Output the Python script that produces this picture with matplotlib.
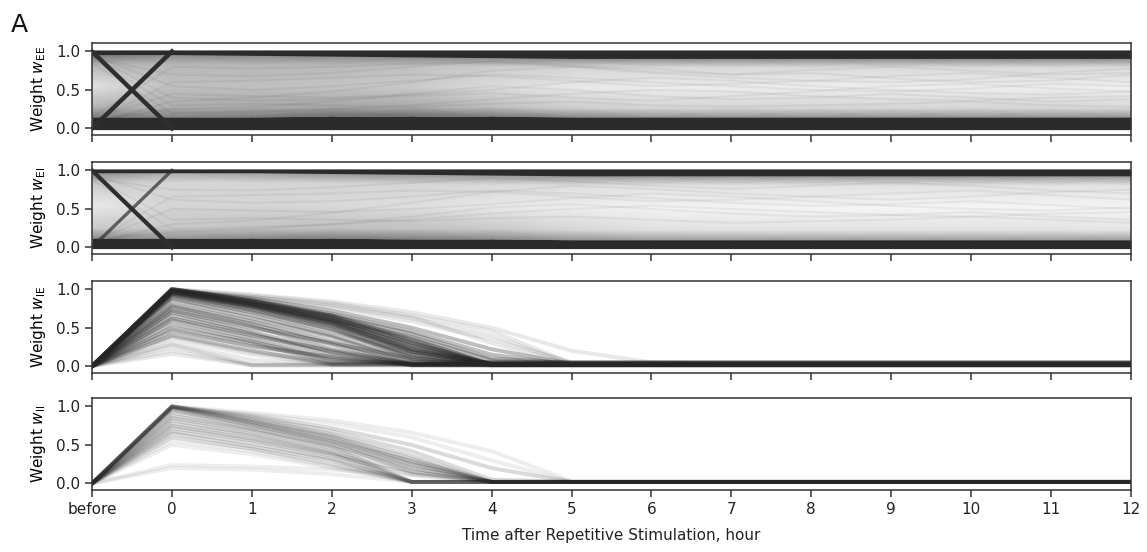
import matplotlib
matplotlib.use('Agg')
from matplotlib import pyplot as plt
from matplotlib.colors import LinearSegmentedColormap
import numpy as np

# hourly sample points: "before" stimulation, then hours 0..12
hours = [-1, 0, 1, 2, 3, 4, 5, 6, 7, 8, 9, 10, 11, 12]
hour_labels = ['before', '0', '1', '2', '3', '4', '5', '6', '7', '8', '9', '10', '11', '12']

# E->E weights: edges of the saturated bands near 0 and near 1
ee_low_edge = [0.15, 0.15, 0.15, 0.16, 0.16, 0.16, 0.15, 0.15, 0.15, 0.15, 0.15, 0.15, 0.15, 0.15]
ee_high_edge = [0.96, 0.96, 0.95, 0.94, 0.93, 0.92, 0.91, 0.91, 0.91, 0.91, 0.91, 0.91, 0.91, 0.91]
# density of weights between the bands (rows run from low edge to high edge)
ee_density = [
    [0.62, 0.58, 0.62, 0.68, 0.68, 0.62, 0.56, 0.50, 0.50, 0.50, 0.50, 0.50, 0.50, 0.50],
    [0.36, 0.38, 0.40, 0.42, 0.40, 0.32, 0.24, 0.20, 0.20, 0.20, 0.20, 0.20, 0.20, 0.18],
    [0.14, 0.30, 0.30, 0.28, 0.25, 0.17, 0.11, 0.09, 0.09, 0.08, 0.08, 0.08, 0.08, 0.07],
    [0.36, 0.34, 0.34, 0.33, 0.30, 0.24, 0.20, 0.18, 0.18, 0.18, 0.18, 0.18, 0.18, 0.17],
    [0.66, 0.56, 0.56, 0.56, 0.56, 0.56, 0.56, 0.56, 0.56, 0.56, 0.56, 0.56, 0.56, 0.56],
]
ee_paths = [
    [0.05, 0.35, 0.40, 0.48, 0.60, 0.75, 0.80, 0.78, 0.70, 0.72, 0.65, 0.60, 0.62, 0.70],
    [0.95, 0.55, 0.50, 0.55, 0.62, 0.70, 0.66, 0.60, 0.55, 0.50, 0.48, 0.52, 0.58, 0.55],
    [0.10, 0.25, 0.28, 0.35, 0.45, 0.55, 0.50, 0.42, 0.38, 0.40, 0.45, 0.40, 0.35, 0.38],
    [0.92, 0.70, 0.68, 0.72, 0.80, 0.88, 0.82, 0.74, 0.70, 0.76, 0.80, 0.75, 0.70, 0.72],
    [0.12, 0.45, 0.42, 0.40, 0.44, 0.50, 0.60, 0.66, 0.62, 0.55, 0.50, 0.46, 0.44, 0.48],
    [0.90, 0.30, 0.32, 0.30, 0.28, 0.32, 0.35, 0.30, 0.28, 0.30, 0.32, 0.35, 0.30, 0.28],
    [0.08, 0.60, 0.62, 0.66, 0.70, 0.68, 0.62, 0.55, 0.58, 0.62, 0.68, 0.72, 0.66, 0.60],
    [0.85, 0.20, 0.22, 0.25, 0.30, 0.38, 0.45, 0.50, 0.48, 0.42, 0.38, 0.36, 0.40, 0.42],
    [0.15, 0.80, 0.78, 0.80, 0.84, 0.86, 0.80, 0.72, 0.66, 0.62, 0.60, 0.64, 0.72, 0.78],
    [0.94, 0.40, 0.36, 0.38, 0.42, 0.46, 0.40, 0.36, 0.42, 0.48, 0.55, 0.58, 0.52, 0.48],
]
# synapses swapped by the stimulation: before -> hour 0
ee_swap = [[1.0, 0.0], [0.0, 1.0]]

# E->I weights
ei_low_edge = [0.12, 0.12, 0.12, 0.12, 0.11, 0.11, 0.10, 0.10, 0.10, 0.10, 0.10, 0.10, 0.10, 0.10]
ei_high_edge = [0.97, 0.97, 0.97, 0.96, 0.95, 0.94, 0.93, 0.93, 0.93, 0.93, 0.93, 0.93, 0.93, 0.93]
ei_density = [
    [0.55, 0.50, 0.56, 0.60, 0.60, 0.55, 0.50, 0.45, 0.45, 0.45, 0.45, 0.45, 0.45, 0.45],
    [0.26, 0.26, 0.28, 0.30, 0.30, 0.26, 0.20, 0.15, 0.14, 0.14, 0.14, 0.14, 0.14, 0.13],
    [0.10, 0.20, 0.20, 0.18, 0.15, 0.11, 0.08, 0.06, 0.06, 0.05, 0.05, 0.05, 0.05, 0.05],
    [0.26, 0.20, 0.20, 0.20, 0.20, 0.18, 0.16, 0.14, 0.14, 0.14, 0.14, 0.14, 0.14, 0.13],
    [0.55, 0.40, 0.45, 0.50, 0.50, 0.50, 0.50, 0.50, 0.50, 0.50, 0.50, 0.50, 0.50, 0.50],
]
ei_paths = [
    [0.05, 0.30, 0.35, 0.45, 0.58, 0.72, 0.80, 0.76, 0.70, 0.66, 0.62, 0.66, 0.72, 0.75],
    [0.95, 0.62, 0.58, 0.60, 0.66, 0.74, 0.70, 0.64, 0.58, 0.54, 0.56, 0.60, 0.55, 0.50],
    [0.10, 0.20, 0.24, 0.30, 0.40, 0.52, 0.56, 0.50, 0.44, 0.40, 0.42, 0.46, 0.40, 0.36],
    [0.90, 0.75, 0.74, 0.78, 0.84, 0.90, 0.86, 0.80, 0.76, 0.80, 0.84, 0.80, 0.74, 0.70],
    [0.08, 0.50, 0.48, 0.46, 0.50, 0.56, 0.64, 0.70, 0.66, 0.60, 0.54, 0.50, 0.48, 0.52],
    [0.92, 0.36, 0.38, 0.36, 0.34, 0.38, 0.40, 0.36, 0.32, 0.34, 0.36, 0.40, 0.36, 0.32],
    [0.06, 0.66, 0.68, 0.70, 0.74, 0.72, 0.66, 0.60, 0.62, 0.66, 0.70, 0.74, 0.68, 0.62],
    [0.88, 0.24, 0.26, 0.30, 0.36, 0.44, 0.50, 0.54, 0.50, 0.46, 0.42, 0.40, 0.44, 0.46],
]
ei_swap = [[1.0, 0.0], [0.0, 1.0]]

# I->E weights: value before, then hourly values from hour 0 until they settle
ie_before = 0.0
ie_paths = [
    [1.00, 0.86, 0.66, 0.36, 0.02],
    [1.00, 0.84, 0.64, 0.32, 0.02],
    [0.99, 0.84, 0.63, 0.30, 0.02],
    [0.99, 0.82, 0.62, 0.30, 0.03],
    [0.98, 0.82, 0.60, 0.26, 0.02],
    [0.98, 0.81, 0.60, 0.24, 0.02],
    [0.97, 0.80, 0.58, 0.22, 0.03],
    [0.97, 0.81, 0.59, 0.27, 0.02],
    [0.96, 0.78, 0.56, 0.20, 0.02],
    [0.96, 0.79, 0.57, 0.21, 0.03],
    [0.95, 0.78, 0.55, 0.18, 0.04],
    [0.95, 0.77, 0.54, 0.19, 0.02],
    [0.94, 0.76, 0.52, 0.15, 0.02],
    [0.93, 0.74, 0.50, 0.12, 0.03],
    [0.92, 0.72, 0.48, 0.10, 0.02],
    [1.00, 0.85, 0.65, 0.34, 0.03],
    [1.00, 0.85, 0.68, 0.45, 0.15, 0.02],
    [0.98, 0.83, 0.66, 0.42, 0.10, 0.04],
    [0.99, 0.88, 0.72, 0.50, 0.22, 0.03],
    [0.97, 0.80, 0.60, 0.38, 0.08, 0.02],
    [0.90, 0.70, 0.45, 0.15, 0.02],
    [0.88, 0.66, 0.40, 0.08, 0.01],
    [0.85, 0.62, 0.38, 0.05],
    [0.80, 0.58, 0.32, 0.03],
    [0.78, 0.55, 0.28, 0.02],
    [0.75, 0.52, 0.22, 0.02],
    [0.72, 0.50, 0.30, 0.10, 0.02],
    [0.70, 0.45, 0.18, 0.02],
    [0.66, 0.42, 0.15, 0.01],
    [0.62, 0.40, 0.20, 0.03],
    [0.60, 0.36, 0.10, 0.02],
    [0.55, 0.32, 0.08, 0.02],
    [0.50, 0.30, 0.05],
    [0.45, 0.26, 0.12, 0.02],
    [0.40, 0.20, 0.03],
]
# sparse synapses on the edges of the distribution
ie_sparse = [
    [1.00, 0.92, 0.82, 0.66, 0.46, 0.04],
    [1.00, 0.90, 0.78, 0.62, 0.40, 0.03],
    [0.99, 0.88, 0.76, 0.58, 0.35, 0.05],
    [0.98, 0.90, 0.80, 0.64, 0.30, 0.02],
    [1.00, 0.93, 0.84, 0.70, 0.50, 0.20, 0.05, 0.03],
    [0.48, 0.25, 0.03],
    [0.38, 0.18, 0.02],
    [0.35, 0.15, 0.02],
    [0.30, 0.08, 0.02],
    [0.28, 0.02],
    [0.25, 0.02],
    [0.20, 0.01],
    [0.16, 0.01],
]

# I->I weights
ii_before = 0.0
ii_paths = [
    [1.00, 0.84, 0.64, 0.36, 0.02],
    [1.00, 0.82, 0.62, 0.32, 0.02],
    [1.00, 0.80, 0.60, 0.28, 0.02],
    [0.99, 0.80, 0.58, 0.25, 0.02],
    [1.00, 0.86, 0.68, 0.42, 0.05, 0.02],
    [0.98, 0.78, 0.55, 0.20, 0.02],
    [1.00, 0.88, 0.72, 0.50, 0.20, 0.02],
    [0.97, 0.76, 0.52, 0.15, 0.02],
    [0.95, 0.75, 0.55, 0.30, 0.02],
    [0.92, 0.72, 0.50, 0.25, 0.02],
    [0.88, 0.70, 0.48, 0.02],
    [0.85, 0.68, 0.46, 0.20, 0.02],
    [0.82, 0.64, 0.42, 0.02],
    [0.78, 0.62, 0.40, 0.15, 0.02],
    [0.75, 0.58, 0.38, 0.02],
    [0.72, 0.56, 0.36, 0.12, 0.02],
    [0.68, 0.52, 0.32, 0.02],
    [0.65, 0.48, 0.30, 0.02],
    [0.60, 0.45, 0.25, 0.02],
]
ii_sparse = [
    [1.00, 0.92, 0.82, 0.66, 0.42, 0.03],
    [0.99, 0.90, 0.78, 0.60, 0.30, 0.02],
    [0.55, 0.42, 0.22, 0.02],
    [0.50, 0.38, 0.20, 0.02],
    [0.24, 0.22, 0.18, 0.10, 0.02],
    [0.20, 0.18, 0.12, 0.02],
]

DARK = '#262626'
shade_cmap = LinearSegmentedColormap.from_list('shade', ['white', '#2b2b2b'])
row_fracs = [0.0, 0.15, 0.5, 0.85, 1.0]


def draw_bimodal(ax, low_edge, high_edge, density, paths):
    x = np.array(hours, dtype=float)
    lo = np.array(low_edge)
    hi = np.array(high_edge)
    # curvilinear mesh spanning the gap between the two saturated bands
    X = np.tile(x, (len(row_fracs), 1))
    Y = np.array([lo + f * (hi - lo) for f in row_fracs])
    ax.pcolormesh(X, Y, np.array(density), shading='gouraud', cmap=shade_cmap,
                  vmin=0, vmax=1, rasterized=True)
    for p in paths:
        ax.plot(hours, p, color=DARK, alpha=0.06, lw=1.5)
    ax.fill_between(hours, -0.015, lo, color='#2b2b2b', lw=0)
    ax.fill_between(hours, hi, 1.02, color='#2b2b2b', lw=0)
    return ax


def draw_decay(ax, before, paths, alpha):
    for p in paths:
        xs = [-1] + hours[1:len(p) + 1] + [12]
        ys = [before] + list(p) + [p[-1]]
        ax.plot(xs, ys, color=DARK, alpha=alpha, lw=2.8, solid_joinstyle='round')


fig = plt.figure(figsize=(11.47, 5.52), dpi=100)
left, width, height = 0.0802, 0.9058, 0.1667
bottoms = [0.7554, 0.5399, 0.3248, 0.1123]
axes = [fig.add_axes([left, b, width, height]) for b in bottoms]

draw_bimodal(axes[0], ee_low_edge, ee_high_edge, ee_density, ee_paths)
axes[0].plot([-1, 0], ee_swap[0], color='#2e2e2e', lw=3.2)
axes[0].plot([-1, 0], ee_swap[1], color='#2e2e2e', lw=3.2)

draw_bimodal(axes[1], ei_low_edge, ei_high_edge, ei_density, ei_paths)
axes[1].plot([-1, 0], ei_swap[0], color='#2e2e2e', lw=3.0)
axes[1].plot([-1, 0], ei_swap[1], color='#2e2e2e', lw=2.4, alpha=0.7)

draw_decay(axes[2], ie_before, ie_sparse, 0.10)
draw_decay(axes[2], ie_before, ie_paths, 0.30)
draw_decay(axes[3], ii_before, ii_sparse, 0.08)
draw_decay(axes[3], ii_before, ii_paths, 0.17)

ylabels = [r'Weight $w_{\mathrm{EE}}$', r'Weight $w_{\mathrm{EI}}$',
           r'Weight $w_{\mathrm{IE}}$', r'Weight $w_{\mathrm{II}}$']
for ax, lab in zip(axes, ylabels):
    ax.set_xlim(-1, 12)
    ax.set_ylim(-0.085, 1.11)
    ax.set_yticks([0.0, 0.5, 1.0])
    ax.set_yticklabels(['0.0', '0.5', '1.0'])
    ax.set_xticks(hours)
    ax.set_ylabel(lab, fontsize=11, labelpad=6)
    ax.tick_params(direction='out', length=5, width=1.1, labelsize=11,
                   color='#333333', labelcolor='#222222')
    for s in ax.spines.values():
        s.set_color('#333333')
        s.set_linewidth(1.1)
for ax in axes[:-1]:
    ax.set_xticklabels([])
axes[-1].set_xticklabels(hour_labels)
axes[-1].set_xlabel('Time after Repetitive Stimulation, hour', fontsize=11, labelpad=8,
                    color='#222222')

fig.text(0.009, 0.942, 'A', fontsize=18, color='#111111')

fig.savefig('out.png', dpi=100)
